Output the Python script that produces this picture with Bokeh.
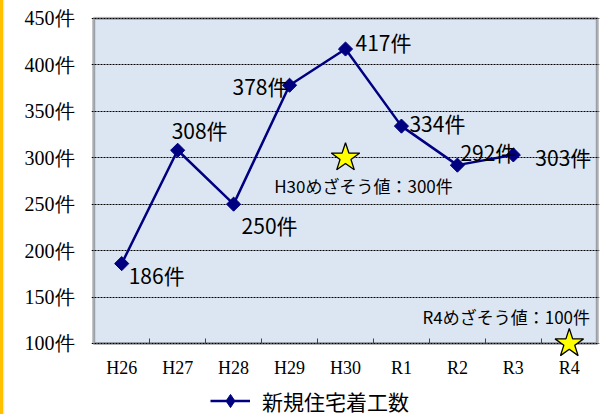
import math
from bokeh.plotting import figure
from bokeh.layouts import column
from bokeh.models import (FixedTicker, PrintfTickFormatter, Legend, LegendItem,
                          ColumnDataSource, Range1d, BoxAnnotation)
from bokeh.core.properties import value
from bokeh.embed import file_html
from bokeh.resources import INLINE

# ---- data ----
categories = ["H26", "H27", "H28", "H29", "H30", "R1", "R2", "R3", "R4"]
starts = [186, 308, 250, 378, 417, 334, 292, 303]          # H26 .. R3
series_name = "新規住宅着工数"
unit = "件"
y_ticks = [100, 150, 200, 250, 300, 350, 400, 450]
target_categories = ["H30", "R4"]
target_values = [300, 100]
target_texts = ["H30めざそう値：300件", "R4めざそう値：100件"]

# ---- style (label offsets in pixels) ----
label_dx = [7, -6, 8, -57, 10, 8, 3, 22]
label_dy = [11, -20, 21, 1, -7, -3, -13, 2]
target_dx = [18, -63]
target_dy = [28, -27]

pos = {c: i + 0.5 for i, c in enumerate(categories)}
xs = [pos[c] for c in categories[:len(starts)]]
n = len(categories)

PLOT_BG = "#DCE6F2"
NAVY = "#000080"
STRIP = {"background": "linear-gradient(to right, #FFC000 0px, #FFC000 3.5px, #e8e8e8 3.5px, #ffffff 5px)"}

p = figure(width=600, height=380, output_backend="svg", toolbar_location=None,
           x_range=Range1d(-0.04, n + 0.04), y_range=Range1d(86, 452),
           min_border_left=91, min_border_right=1, min_border_top=16, min_border_bottom=24,
           styles=STRIP)

p.background_fill_color = "white"
p.border_fill_alpha = 0
p.outline_line_color = None

# plot area (value range of the axes) as background box + border box
p.add_layout(BoxAnnotation(left=0, right=n, bottom=y_ticks[0], top=y_ticks[-1],
                           fill_color=PLOT_BG, fill_alpha=1, line_color=None, level="image"))
p.add_layout(BoxAnnotation(left=0, right=n, bottom=y_ticks[0], top=y_ticks[-1],
                           fill_alpha=0, line_color="black", line_width=3, level="underlay"))

# x axis
xa = p.xaxis[0]
xa.ticker = FixedTicker(ticks=[pos[c] for c in categories],
                        minor_ticks=[i for i in range(1, n)])
xa.major_label_overrides = {pos[c]: c for c in categories}
xa.major_tick_in = 0
xa.major_tick_out = 0
xa.minor_tick_in = 18
xa.minor_tick_out = -13
xa.minor_tick_line_color = "#444444"
xa.axis_line_color = None
xa.major_label_text_font = "Liberation Serif"
xa.major_label_text_font_size = "18px"
xa.major_label_text_color = "black"
xa.major_label_standoff = 1

# y axis
ya = p.yaxis[0]
ya.ticker = FixedTicker(ticks=y_ticks)
ya.formatter = PrintfTickFormatter(format="%d" + unit)
ya.major_tick_in = 0
ya.major_tick_out = 0
ya.minor_tick_line_color = None
ya.axis_line_color = None
ya.major_label_text_font = "Liberation Serif"
ya.major_label_text_font_size = "20px"
ya.major_label_text_color = "black"
ya.major_label_standoff = 17

p.xgrid.visible = False
p.ygrid.grid_line_color = "black"
p.ygrid.grid_line_dash = "2 1"
p.ygrid.grid_line_width = 1

src = ColumnDataSource(dict(x=xs, y=starts, t=[f"{v}{unit}" for v in starts],
                            dx=label_dx, dy=label_dy))

line_style = dict(line_color=NAVY, line_width=2.5)

p.line("x", "y", source=src, **line_style)
p.scatter("x", "y", source=src, marker="square", size=10, angle=math.pi / 4,
          fill_color=NAVY, line_color=NAVY)

tsrc = ColumnDataSource(dict(x=[pos[c] for c in target_categories], y=target_values,
                             t=target_texts, dx=target_dx, dy=target_dy))
p.scatter("x", "y", source=tsrc, marker="star", size=30, fill_color="#FFFF00",
          line_color="black", line_width=1.3)
p.text("x", "y", text="t", source=tsrc, x_offset="dx", y_offset="dy",
       text_font=value("Noto Sans CJK JP"), text_font_size="17px",
       text_align="center", text_baseline="middle", text_color="black")

p.text("x", "y", text="t", source=src, x_offset="dx", y_offset="dy",
       text_font=value("Noto Sans CJK JP"), text_font_size="21px",
       text_align="left", text_baseline="middle", text_color="black")

# ---- legend strip (separate small figure below the chart; its frame is aligned with the chart's) ----
lf = figure(width=600, height=34, output_backend="svg", toolbar_location=None,
            x_range=Range1d(0, 1), y_range=Range1d(0, 1),
            x_axis_location=None, y_axis_location=None,
            min_border_left=91, min_border_right=1, min_border_top=0, min_border_bottom=0,
            styles=STRIP)
lf.grid.visible = False
lf.outline_line_color = None
lf.background_fill_alpha = 0
lf.border_fill_alpha = 0
# same series source; its points fall outside this strip's ranges, so only the legend shows
lr = lf.line("x", "y", source=src, **line_style)
mr = lf.scatter("x", "y", source=src, marker="diamond", size=10,
                fill_color=NAVY, line_color=NAVY)
legend = Legend(items=[LegendItem(label=series_name, renderers=[lr, mr])],
                location=(119, -3), orientation="horizontal", padding=0, margin=0,
                border_line_color=None, background_fill_alpha=0,
                label_text_font="Noto Sans CJK JP", label_text_font_size="21px",
                label_text_color="black",
                glyph_width=40, glyph_height=33, label_standoff=12, label_height=33)
lf.add_layout(legend)

layout = column(p, lf, spacing=0)

open("out.html", "w").write(file_html(layout, INLINE))
